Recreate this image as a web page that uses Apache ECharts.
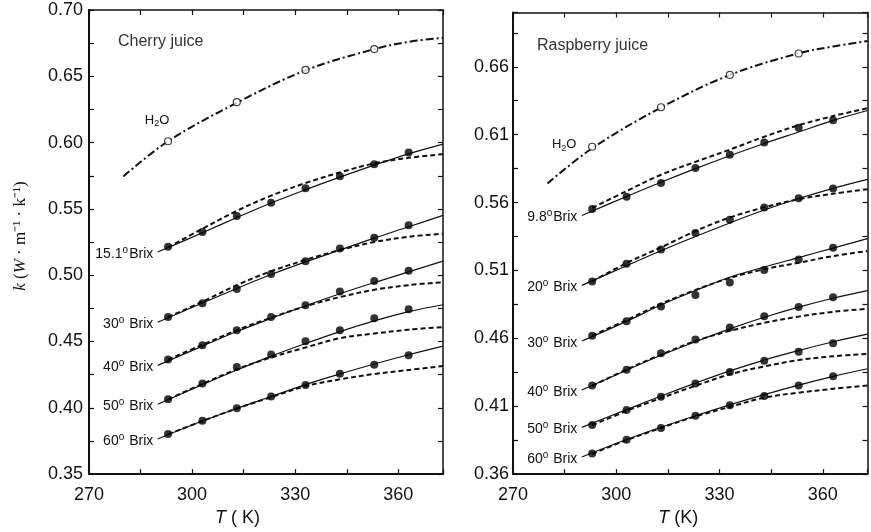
<!DOCTYPE html>
<html><head><meta charset="utf-8">
<script src="https://cdn.jsdelivr.net/npm/echarts@6/dist/echarts.min.js"></script>
<style>html,body{margin:0;padding:0;background:#fff}#c{width:871px;height:532px}</style>
</head><body><div id="c"></div>
<script>
// ---- temperatures (K) ----
const T_PTS = [293, 303, 313, 323, 333, 343, 353, 363];
const T_SOLID = [290, 303, 313, 323, 333, 343, 353, 363, 373];
const T_DASH = [293, 303, 313, 323, 333, 343, 353, 363, 373];
const T_H2O_LINE = [280, 293, 313, 333, 353, 363, 373];
const T_H2O_PTS = [293, 313, 333, 353];

// ---- tick labels ----
const X_TICK_LABELS = [270, 300, 330, 360];
const CHERRY_Y_LABELS = [0.35, 0.40, 0.45, 0.50, 0.55, 0.60, 0.65, 0.70];
const RASP_Y_LABELS = [0.36, 0.41, 0.46, 0.51, 0.56, 0.61, 0.66];

// ---- Cherry juice ----
const cherryH2OPts = [0.601, 0.6305, 0.6548, 0.6705];
const cherryH2OLine = [0.5745, 0.601, 0.630, 0.6545, 0.6705, 0.676, 0.679];
const cherryLabels = ['15.1', '30', '40', '50', '60'];
const cherry151Pts = [0.5214, 0.5326, 0.5446, 0.5546, 0.5656, 0.5746, 0.5836, 0.5926];
const cherry151Solid = [0.5175, 0.532, 0.5435, 0.5545, 0.5645, 0.574, 0.583, 0.5915, 0.5988];
const cherry151Dash = [0.521, 0.535, 0.5485, 0.560, 0.5695, 0.5775, 0.5843, 0.5885, 0.5913];
const cherry30Pts = [0.4684, 0.4789, 0.4896, 0.5009, 0.5106, 0.5201, 0.5283, 0.5376];
const cherry30Solid = [0.4645, 0.479, 0.490, 0.5005, 0.510, 0.519, 0.528, 0.5365, 0.5451];
const cherry30Dash = [0.4684, 0.480, 0.4925, 0.503, 0.5115, 0.519, 0.525, 0.529, 0.5313];
const cherry40Pts = [0.4364, 0.4472, 0.4585, 0.4684, 0.4774, 0.4877, 0.4957, 0.5034];
const cherry40Solid = [0.432, 0.4465, 0.4575, 0.4675, 0.477, 0.486, 0.4945, 0.5025, 0.5106];
const cherry40Dash = [0.4364, 0.4475, 0.4585, 0.468, 0.4765, 0.4835, 0.489, 0.4925, 0.4947];
const cherry50Pts = [0.4064, 0.4184, 0.4307, 0.4402, 0.4502, 0.4585, 0.4675, 0.4744];
const cherry50Solid = [0.4027, 0.4175, 0.4285, 0.439, 0.4485, 0.4575, 0.4655, 0.4725, 0.4777];
const cherry50Dash = [0.4064, 0.418, 0.429, 0.438, 0.4455, 0.4525, 0.456, 0.4589, 0.4609];
const cherry60Pts = [0.3802, 0.3902, 0.3997, 0.4085, 0.4172, 0.4257, 0.4325, 0.4397];
const cherry60Solid = [0.3765, 0.390, 0.3995, 0.4085, 0.4175, 0.4255, 0.433, 0.440, 0.4465];
const cherry60Dash = [0.380, 0.390, 0.3995, 0.408, 0.4163, 0.4215, 0.4255, 0.4285, 0.4315];

// ---- Raspberry juice ----
const raspH2OPts = [0.6011, 0.6302, 0.654, 0.6698];
const raspH2OLine = [0.574, 0.600, 0.630, 0.654, 0.670, 0.675, 0.679];
const raspLabels = ['9.8', '20', '30', '40', '50', '60'];
const rasp98Pts = [0.5553, 0.5643, 0.5745, 0.5854, 0.5953, 0.6043, 0.6152, 0.6206];
const rasp98Solid = [0.5505, 0.5645, 0.575, 0.585, 0.5945, 0.6035, 0.612, 0.6205, 0.6278];
const rasp98Dash = [0.556, 0.5685, 0.5805, 0.590, 0.599, 0.6085, 0.617, 0.6237, 0.6295];
const rasp20Pts = [0.5019, 0.515, 0.5254, 0.5376, 0.5473, 0.5563, 0.5631, 0.5703];
const rasp20Solid = [0.499, 0.5135, 0.5245, 0.535, 0.545, 0.5545, 0.563, 0.5705, 0.5771];
const rasp20Dash = [0.5019, 0.5155, 0.527, 0.539, 0.549, 0.5565, 0.5625, 0.5665, 0.5698];
const rasp30Pts = [0.4619, 0.4726, 0.4835, 0.492, 0.5012, 0.5104, 0.5181, 0.5267];
const rasp30Solid = [0.458, 0.4725, 0.4845, 0.4952, 0.505, 0.5125, 0.5195, 0.5265, 0.5334];
const rasp30Dash = [0.4619, 0.4735, 0.4854, 0.4956, 0.5045, 0.5109, 0.5157, 0.5206, 0.5243];
const rasp40Pts = [0.4253, 0.4369, 0.449, 0.4592, 0.4679, 0.4762, 0.483, 0.4903];
const rasp40Solid = [0.422, 0.4365, 0.4475, 0.4575, 0.467, 0.4755, 0.483, 0.4895, 0.4951];
const rasp40Dash = [0.425, 0.437, 0.448, 0.458, 0.4655, 0.4714, 0.476, 0.4795, 0.4818];
const rasp50Pts = [0.3962, 0.4073, 0.417, 0.4267, 0.4352, 0.4435, 0.4502, 0.4563];
const rasp50Solid = [0.3944, 0.4075, 0.4175, 0.427, 0.436, 0.444, 0.451, 0.4575, 0.4631];
const rasp50Dash = [0.396, 0.4065, 0.416, 0.425, 0.4335, 0.4393, 0.444, 0.4468, 0.4486];
const rasp60Pts = [0.3751, 0.3853, 0.394, 0.4029, 0.4107, 0.4175, 0.4253, 0.432];
const rasp60Solid = [0.3726, 0.3855, 0.3945, 0.403, 0.411, 0.4185, 0.4255, 0.432, 0.4376];
const rasp60Dash = [0.375, 0.385, 0.394, 0.4025, 0.4095, 0.4163, 0.420, 0.4228, 0.4253];

const cherryGroups = [
  [cherry151Pts, cherry151Solid, cherry151Dash],
  [cherry30Pts, cherry30Solid, cherry30Dash],
  [cherry40Pts, cherry40Solid, cherry40Dash],
  [cherry50Pts, cherry50Solid, cherry50Dash],
  [cherry60Pts, cherry60Solid, cherry60Dash]
];
const raspGroups = [
  [rasp98Pts, rasp98Solid, rasp98Dash],
  [rasp20Pts, rasp20Solid, rasp20Dash],
  [rasp30Pts, rasp30Solid, rasp30Dash],
  [rasp40Pts, rasp40Solid, rasp40Dash],
  [rasp50Pts, rasp50Solid, rasp50Dash],
  [rasp60Pts, rasp60Solid, rasp60Dash]
];

const INK = '#111';
const SANS = "'Liberation Sans', Arial, Helvetica, sans-serif";
const SERIF = "'Liberation Serif', 'Times New Roman', serif";

function zip(xs, ys) { return xs.map((x, i) => [x, ys[i]]); }
function inList(v, list) { return list.some(t => Math.abs(t - v) < 1e-6); }

const labelRich = {
  n: { fontSize: 14, fontFamily: SANS, color: INK, lineHeight: 18 },
  s: { fontSize: 10, fontFamily: SANS, color: INK, verticalAlign: 'top', lineHeight: 8, padding: [0, 1, 0, 0] }
};

function panelSeries(xi, yi, h2oLine, h2oPts, h2oOffset, groups, names) {
  const out = [];
  const SM = 0.35;
  out.push({
    type: 'line', xAxisIndex: xi, yAxisIndex: yi, data: zip(T_H2O_LINE, h2oLine),
    smooth: SM, symbol: 'none', silent: true,
    lineStyle: { color: INK, width: 2, type: [8, 3, 2, 3] }, z: 2
  });
  out.push({
    type: 'scatter', xAxisIndex: xi, yAxisIndex: yi, data: zip(T_H2O_PTS, h2oPts),
    symbol: 'circle', symbolSize: 7, silent: true,
    itemStyle: { color: '#fff', borderColor: INK, borderWidth: 1.2 }, z: 4,
    markPoint: {
      symbol: 'circle', symbolSize: 1, itemStyle: { color: 'rgba(0,0,0,0)' },
      data: [{ coord: [T_H2O_PTS[0], h2oPts[0]] }],
      label: {
        show: true, offset: h2oOffset, formatter: '{n|H}{b|2}{n|O}',
        rich: {
          n: { fontSize: 13, fontFamily: SANS, color: INK, lineHeight: 16 },
          b: { fontSize: 9, fontFamily: SANS, color: INK, verticalAlign: 'bottom', lineHeight: 12 }
        }
      }
    }
  });
  groups.forEach((g, i) => {
    const [pts, solid, dash] = g;
    const sep = (names[i].indexOf('.') >= 0) ? '' : ' ';
    out.push({
      type: 'line', xAxisIndex: xi, yAxisIndex: yi, data: zip(T_SOLID, solid),
      smooth: SM, symbol: 'none', silent: true,
      lineStyle: { color: INK, width: 1.2 }, z: 2,
      markPoint: {
        symbol: 'circle', symbolSize: 1, itemStyle: { color: 'rgba(0,0,0,0)' },
        data: [{ coord: [T_SOLID[0], solid[0]] }],
        label: {
          show: true, position: 'left', distance: 4, offset: [0, 2],
          formatter: '{n|' + names[i] + '}{s|o}{n|' + sep + 'Brix}', rich: labelRich
        }
      }
    });
    out.push({
      type: 'line', xAxisIndex: xi, yAxisIndex: yi, data: zip(T_DASH, dash),
      smooth: SM, symbol: 'none', silent: true,
      lineStyle: { color: INK, width: 2, type: [5, 3] }, z: 2
    });
    out.push({
      type: 'scatter', xAxisIndex: xi, yAxisIndex: yi, data: zip(T_PTS, pts),
      symbol: 'circle', symbolSize: 8, silent: true,
      itemStyle: { color: '#000' }, z: 4
    });
  });
  return out;
}

function xAxes(gi, nameText, namePad, nameGap) {
  return [{
    type: 'value', gridIndex: gi, position: 'bottom', min: 270, max: 373, interval: 15,
    axisLine: { lineStyle: { color: INK, width: 2 } },
    axisTick: { inside: true, length: 5, lineStyle: { color: INK, width: 1.2 } },
    splitLine: { show: false },
    axisLabel: {
      margin: 12, color: INK, fontSize: 18, fontFamily: SANS,
      formatter: v => inList(v, X_TICK_LABELS) ? String(v) : ''
    },
    name: nameText, nameLocation: 'middle', nameGap: nameGap,
    nameTextStyle: {
      fontSize: 18, fontFamily: SANS, color: INK, padding: namePad,
      rich: { i: { fontStyle: 'italic', fontSize: 18, fontFamily: SANS, color: INK } }
    }
  }, {
    type: 'value', gridIndex: gi, position: 'top', min: 270, max: 373, interval: 15,
    axisLine: { lineStyle: { color: INK, width: 1.5 } },
    axisTick: { inside: true, length: 5, lineStyle: { color: INK, width: 1.2 } },
    axisLabel: { show: false }, splitLine: { show: false }
  }];
}

function yAxes(gi, min, max, labels, margin, name) {
  const base = {
    type: 'value', gridIndex: gi, min: min, max: max, interval: 0.025,
    splitLine: { show: false },
    axisTick: { inside: true, length: 5, lineStyle: { color: INK, width: 1.2 } }
  };
  const left = Object.assign({}, base, {
    position: 'left',
    axisLine: { show: true, lineStyle: { color: INK, width: 2 } },
    axisLabel: {
      margin: margin, color: INK, fontSize: 18, fontFamily: SANS,
      formatter: v => inList(v, labels) ? v.toFixed(2) : ''
    }
  });
  if (name) {
    Object.assign(left, {
      name: name, nameLocation: 'middle', nameGap: 60,
      nameTextStyle: {
        fontSize: 17, fontFamily: SERIF, color: INK, padding: [0, 0, 0, 12],
        rich: { i: { fontStyle: 'italic', fontSize: 17, fontFamily: SERIF, color: INK } }
      }
    });
  }
  const right = Object.assign({}, base, {
    position: 'right',
    axisLine: { show: true, lineStyle: { color: INK, width: 1.5 } },
    axisLabel: { show: false }
  });
  return [left, right];
}

const chart = echarts.init(document.getElementById('c'), null, { renderer: 'canvas' });
const option = {
  backgroundColor: '#fff',
  animation: false,
  grid: [
    { left: 89, top: 10, width: 354, height: 467 },
    { left: 513, top: 12.5, width: 354.5, height: 466.5 }
  ],
  xAxis: [].concat(
    xAxes(0, '{i|T} ( K)', [0, 57, 0, 0], 31),
    xAxes(1, '{i|T} (K)', [0, 24, 0, 0], 28)
  ),
  yAxis: [].concat(
    yAxes(0, 0.35, 0.70, CHERRY_Y_LABELS, 6, '{i|k} ({i|W} · m⁻¹ · k⁻¹)'),
    yAxes(1, 0.36, 0.70, RASP_Y_LABELS, 4, null)
  ),
  graphic: [
    { type: 'text', left: 118, top: 34, style: { text: 'Cherry juice', fontSize: 16, fontFamily: SANS, fill: '#333' } },
    { type: 'text', left: 537, top: 38, style: { text: 'Raspberry juice', fontSize: 16, fontFamily: SANS, fill: '#333' } }
  ],
  series: [].concat(
    panelSeries(0, 0, cherryH2OLine, cherryH2OPts, [-11, -21], cherryGroups, cherryLabels),
    panelSeries(2, 2, raspH2OLine, raspH2OPts, [-28, -2], raspGroups, raspLabels)
  )
};
chart.setOption(option);
</script>
</body></html>
